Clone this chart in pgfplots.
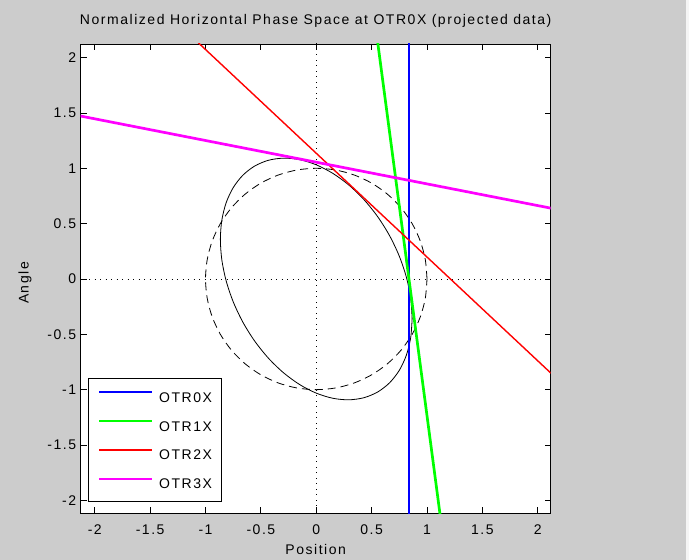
\documentclass[border=0pt]{standalone}
\usepackage{pgfplots}
\pgfplotsset{compat=1.18}
\usepackage{fontspec}
\setmainfont{Liberation Sans}[LetterSpace=11]
\definecolor{figbg}{RGB}{204,204,204}
\definecolor{otrblue}{RGB}{0,0,255}
\definecolor{otrgreen}{RGB}{0,255,0}
\definecolor{otrred}{RGB}{255,0,0}
\definecolor{otrmag}{RGB}{255,0,255}
\begin{document}
\begin{tikzpicture}[font=\fontsize{14}{16}\selectfont]
\fill[figbg] (0,0) rectangle (686pt,560pt);
\fill[gray!8] (686pt,0) rectangle (689pt,560pt);
\useasboundingbox (0,0) rectangle (689pt,560pt);
\begin{axis}[
  at={(80.7pt,46.7pt)}, anchor=south west,
  scale only axis, width=470pt, height=469.3pt,
  xmin=-2.127, xmax=2.117, ymin=-2.117, ymax=2.123,
  axis background/.style={fill=white},
  axis line style={black, line width=0.8pt},
  tick style={black, line width=0.8pt},
  tick align=inside, major tick length=6pt,
  xtick={-2,-1.5,-1,-0.5,0,0.5,1,1.5,2},
  xticklabels={-2,-1.5,-1,-0.5,0,0.5,1,1.5,2},
  ytick={-2,-1.5,-1,-0.5,0,0.5,1,1.5,2},
  yticklabels={-2,-1.5,-1,-0.5,0,0.5,1,1.5,2},
  xticklabel style={yshift=-8pt},
  yticklabel style={xshift=-1pt},
  xlabel={Position}, ylabel={Angle},
  xlabel style={at={(axis description cs:0.5,-0.0771)}, anchor=center},
  ylabel style={at={(axis description cs:-0.1185,0.4907)}, anchor=center},
  title={Normalized Horizontal Phase Space at OTR0X (projected data)},
  every axis title shift=0pt,
  title style={at={(axis description cs:0.5,1.049)}, anchor=center},
  legend style={at={(axis description cs:0.0162,0.0247)}, anchor=south west,
    line width=0.8pt, fill=white, inner xsep=9.7pt, inner ysep=12.5pt,
    nodes={inner sep=0pt, text height=10pt, text depth=0pt},
    row sep=18pt, column sep=6pt},
  legend cell align=left,
  legend image code/.code={\draw[#1] (0pt,5pt) -- (53pt,5pt);},
]
% dashed unit circle
\addplot[black, line width=0.8pt, smooth, dash pattern=on 8pt off 5pt, forget plot] coordinates {
(1,0)(0.9848,0.1736)(0.9397,0.3420)(0.8660,0.5)(0.7660,0.6428)(0.6428,0.7660)(0.5,0.8660)(0.3420,0.9397)(0.1736,0.9848)(0,1)(-0.1736,0.9848)(-0.3420,0.9397)(-0.5,0.8660)(-0.6428,0.7660)(-0.7660,0.6428)(-0.8660,0.5)(-0.9397,0.3420)(-0.9848,0.1736)(-1,0)(-0.9848,-0.1736)(-0.9397,-0.3420)(-0.8660,-0.5)(-0.7660,-0.6428)(-0.6428,-0.7660)(-0.5,-0.8660)(-0.3420,-0.9397)(-0.1736,-0.9848)(0,-1)(0.1736,-0.9848)(0.3420,-0.9397)(0.5,-0.8660)(0.6428,-0.7660)(0.7660,-0.6428)(0.8660,-0.5)(0.9397,-0.3420)(0.9848,-0.1736)(1,0)};
% measured ellipse
\addplot[black, line width=0.8pt, smooth, forget plot] coordinates {
(0.8658,-0.3576)(0.8526,-0.1731)(0.8136,0.0168)(0.7498,0.2061)(0.6632,0.3891)(0.5565,0.5602)(0.4329,0.7145)(0.2961,0.8470)(0.1503,0.9537)(0,1.0315)(-0.1503,1.0779)(-0.2961,1.0916)(-0.4329,1.0721)(-0.5565,1.0200)(-0.6632,0.9369)(-0.7498,0.8255)(-0.8136,0.6888)(-0.8526,0.5313)(-0.8658,0.3576)(-0.8526,0.1731)(-0.8136,-0.0168)(-0.7498,-0.2061)(-0.6632,-0.3891)(-0.5565,-0.5602)(-0.4329,-0.7145)(-0.2961,-0.8470)(-0.1503,-0.9537)(0,-1.0315)(0.1503,-1.0779)(0.2961,-1.0916)(0.4329,-1.0721)(0.5565,-1.0200)(0.6632,-0.9369)(0.7498,-0.8255)(0.8136,-0.6888)(0.8526,-0.5313)(0.8658,-0.3576)};
% dotted zero lines
\addplot[black, line width=0.8pt, dash pattern=on 0.9pt off 4.6pt, forget plot] coordinates {(0,-2.2)(0,2.2)};
\addplot[black, line width=0.8pt, dash pattern=on 0.9pt off 4.6pt, forget plot] coordinates {(-2.2,0)(2.2,0)};
% OTR lines
\addplot[otrblue, line width=2.7pt, forget plot] coordinates {(0.837,-2.2)(0.837,2.2)};
\addplot[otrgreen, line width=2.7pt, forget plot] coordinates {(0.5466,2.2)(1.1274,-2.2)};
\addplot[otrred, line width=1.4pt, forget plot] coordinates {(-1.2,2.2607)(2.2,-0.9268)};
\addplot[otrmag, line width=2.7pt, forget plot] coordinates {(-2.2,1.4862)(2.2,0.6239)};
\addlegendimage{draw=otrblue, line width=1.8pt}
\addlegendentry{OTR0X}
\addlegendimage{draw=otrgreen, line width=1.8pt}
\addlegendentry{OTR1X}
\addlegendimage{draw=otrred, line width=1.8pt}
\addlegendentry{OTR2X}
\addlegendimage{draw=otrmag, line width=1.8pt}
\addlegendentry{OTR3X}
\end{axis}
\end{tikzpicture}
\end{document}
